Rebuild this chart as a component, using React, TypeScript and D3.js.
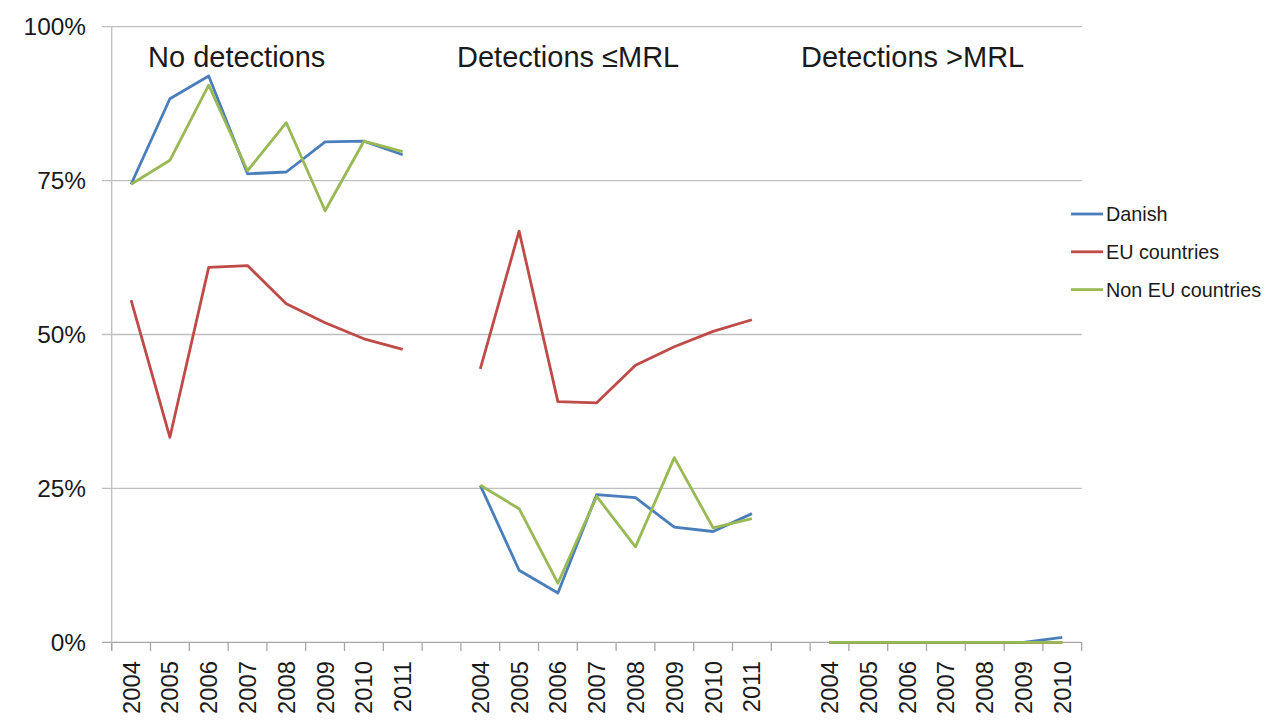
import React from "react";
import * as d3 from "d3";

const groupTitles = ["No detections", "Detections ≤MRL", "Detections >MRL"];
const yearsNoDet = ["2004", "2005", "2006", "2007", "2008", "2009", "2010", "2011"];
const yearsLeMRL = ["2004", "2005", "2006", "2007", "2008", "2009", "2010", "2011"];
const yearsGtMRL = ["2004", "2005", "2006", "2007", "2008", "2009", "2010"];

const danishNoDet = [74.4, 88.3, 92.0, 76.1, 76.4, 81.3, 81.4, 79.2];
const euNoDet = [55.6, 33.3, 60.9, 61.2, 55.0, 51.9, 49.3, 47.6];
const nonEuNoDet = [74.4, 78.3, 90.5, 76.6, 84.4, 70.1, 81.4, 79.7];

const danishLeMRL = [25.5, 11.7, 8.0, 24.0, 23.5, 18.7, 18.0, 20.9];
const euLeMRL = [44.4, 66.8, 39.1, 38.9, 45.0, 48.0, 50.5, 52.4];
const nonEuLeMRL = [25.5, 21.7, 9.6, 23.7, 15.5, 30.0, 18.6, 20.1];

const danishGtMRL = [0, 0, 0, 0, 0, 0, 0.8];
const euGtMRL = [0, 0, 0, 0, 0, 0, 0];
const nonEuGtMRL = [0, 0, 0, 0, 0, 0, 0];

const seriesNames = ["Danish", "EU countries", "Non EU countries"];
const seriesColors = ["#4a7ebb", "#be4b48", "#98b954"];
const yTicks = [0, 25, 50, 75, 100];

const FONT = "'Liberation Sans', Arial, sans-serif";

export default function App() {
  const groups = [
    { key: "g1", years: yearsNoDet, series: [danishNoDet, euNoDet, nonEuNoDet] },
    { key: "g2", years: yearsLeMRL, series: [danishLeMRL, euLeMRL, nonEuLeMRL] },
    { key: "g3", years: yearsGtMRL, series: [danishGtMRL, euGtMRL, nonEuGtMRL] },
  ];
  const domain: { id: string; label: string }[] = [];
  groups.forEach((g, gi) => {
    g.years.forEach((yr) => domain.push({ id: g.key + "-" + yr, label: yr }));
    if (gi < groups.length - 1) domain.push({ id: "gap" + gi, label: "" });
  });

  const left = 111.7;
  const right = 1081.7;
  const x = d3.scaleBand<string>().domain(domain.map((d) => d.id)).range([left, right]).padding(0);
  const y = d3.scaleLinear().domain([0, 100]).range([642.3, 26.7]);
  const bw = x.bandwidth();
  const line = d3
    .line<{ id: string; v: number }>()
    .x((d) => (x(d.id) as number) + bw / 2)
    .y((d) => y(d.v));

  const titleX = [148, 457, 801];
  const boundaries = domain.map((d) => x(d.id) as number).concat([right]);

  return (
    <svg
      width={1268}
      height={722}
      style={{ position: "absolute", left: 0, top: 0, background: "#fff" }}
      fontFamily={FONT}
    >
      {yTicks.map((t) => (
        <g key={t}>
          <line x1={102} x2={right} y1={y(t)} y2={y(t)} stroke={t === 0 ? "#a6a6a6" : "#bfbfbf"} strokeWidth={1.3} />
          <text x={86} y={y(t)} dy="0.36em" textAnchor="end" fontSize={24.4} fill="#1a1a1a">
            {t + "%"}
          </text>
        </g>
      ))}
      <line x1={left} x2={left} y1={y(100)} y2={651} stroke="#bfbfbf" strokeWidth={1.3} />
      {boundaries.map((b, i) => (
        <line key={i} x1={b} x2={b} y1={y(0)} y2={651} stroke="#a6a6a6" strokeWidth={1.3} />
      ))}
      {domain.map((d) =>
        d.label ? (
          <text
            key={d.id}
            transform={`translate(${(x(d.id) as number) + bw / 2 + 8.5},${661}) rotate(-90)`}
            textAnchor="end"
            fontSize={23.8}
            fill="#1a1a1a"
          >
            {d.label}
          </text>
        ) : null
      )}
      {groups.map((g, gi) =>
        g.series.map((vals, si) => (
          <path
            key={g.key + si}
            d={line(vals.map((v, i) => ({ id: g.key + "-" + g.years[i], v }))) || ""}
            fill="none"
            stroke={seriesColors[si]}
            strokeWidth={2.8}
            strokeLinejoin="round"
          />
        ))
      )}
      {groupTitles.map((t, i) => (
        <text key={t} x={titleX[i]} y={66.7} fontSize={29} fill="#1a1a1a">
          {t}
        </text>
      ))}
      {seriesNames.map((n, i) => {
        const ly = 214 + i * 37.8;
        return (
          <g key={n}>
            <line x1={1071} x2={1103} y1={ly} y2={ly} stroke={seriesColors[i]} strokeWidth={2.8} />
            <text x={1106} y={ly} dy="0.36em" fontSize={19.8} fill="#1a1a1a">
              {n}
            </text>
          </g>
        );
      })}
    </svg>
  );
}
